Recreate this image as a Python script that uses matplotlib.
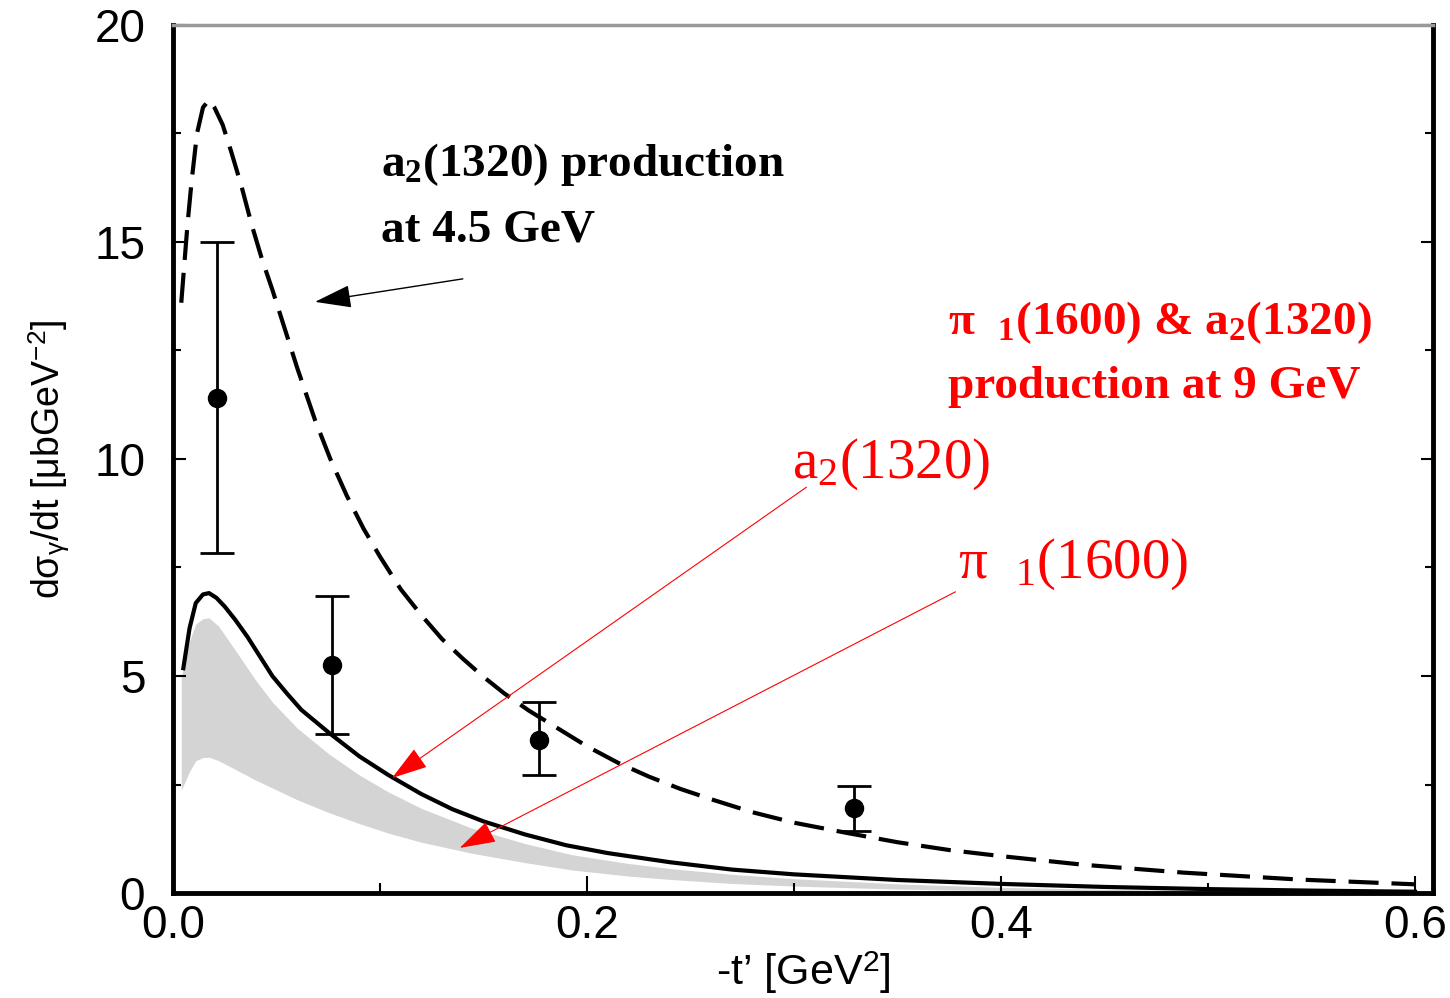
import matplotlib
matplotlib.use("Agg")
import matplotlib.pyplot as plt
from matplotlib.ticker import MultipleLocator

plt.rcParams["font.family"] = ["Liberation Sans", "DejaVu Sans"]
plt.rcParams["mathtext.fontset"] = "custom"
plt.rcParams["mathtext.rm"] = "Liberation Serif"
plt.rcParams["mathtext.bf"] = "Liberation Serif:bold"
plt.rcParams["mathtext.sf"] = "Liberation Sans"
plt.rcParams["mathtext.it"] = "Liberation Serif:italic"

# a2(1320) at 4.5 GeV (dashed curve)
t_dash = [0.004, 0.007, 0.009, 0.0116, 0.0145, 0.0174, 0.020, 0.024, 0.028,
          0.033, 0.038, 0.043, 0.048, 0.054, 0.060, 0.0686, 0.076, 0.084,
          0.092, 0.100, 0.110, 0.120, 0.130, 0.140, 0.150, 0.160, 0.172,
          0.185, 0.200, 0.215, 0.230, 0.245, 0.260, 0.280, 0.300, 0.326,
          0.350, 0.375, 0.400, 0.440, 0.488, 0.544, 0.600]
xs_dash = [13.6, 15.4, 16.4, 17.5, 18.1, 18.27, 18.1, 17.7, 17.1,
           16.3, 15.4, 14.6, 13.9, 13.0, 12.1, 10.9, 10.0, 9.15,
           8.4, 7.75, 7.0, 6.4, 5.85, 5.4, 4.98, 4.6, 4.2,
           3.82, 3.38, 3.0, 2.68, 2.40, 2.16, 1.86, 1.62, 1.38,
           1.17, 0.99, 0.85, 0.65, 0.47, 0.31, 0.20]

# pi1(1600) & a2(1320) at 9 GeV (solid curve)
t_sum = [0.005, 0.008, 0.011, 0.0145, 0.0174, 0.021, 0.025, 0.030, 0.036,
         0.042, 0.048, 0.055, 0.062, 0.0754, 0.090, 0.104, 0.120, 0.135,
         0.150, 0.170, 0.190, 0.210, 0.240, 0.270, 0.300, 0.350, 0.400,
         0.450, 0.500, 0.550, 0.600]
xs_sum = [5.18, 6.1, 6.68, 6.88, 6.91, 6.8, 6.6, 6.3, 5.9,
          5.45, 5.0, 4.6, 4.22, 3.69, 3.15, 2.72, 2.28, 1.93,
          1.65, 1.35, 1.1, 0.92, 0.71, 0.54, 0.43, 0.30, 0.21,
          0.14, 0.09, 0.055, 0.03]

# pi1(1600) band at 9 GeV
t_band = [0.004, 0.008, 0.011, 0.0145, 0.0174, 0.022, 0.030, 0.040, 0.048,
          0.060, 0.0754, 0.090, 0.104, 0.120, 0.144, 0.170, 0.193, 0.220,
          0.241, 0.270, 0.300, 0.350, 0.400, 0.450, 0.500, 0.550, 0.600]
band_hi = [4.98, 5.8, 6.2, 6.32, 6.34, 6.15, 5.6, 4.9, 4.4,
           3.8, 3.2, 2.72, 2.33, 1.95, 1.5, 1.14, 0.88, 0.68,
           0.56, 0.43, 0.33, 0.21, 0.13, 0.085, 0.055, 0.035, 0.02]
band_lo = [2.37, 2.8, 3.05, 3.12, 3.13, 3.05, 2.85, 2.6, 2.42,
           2.15, 1.85, 1.6, 1.38, 1.17, 0.92, 0.7, 0.53, 0.39,
           0.31, 0.22, 0.16, 0.09, 0.05, 0.03, 0.02, 0.01, 0.005]

# data points
t_data = [0.0213, 0.0768, 0.177, 0.329]
xs_data = [11.4, 5.25, 3.53, 1.96]
err_hi = [15.0, 6.84, 4.40, 2.47]
err_lo = [7.83, 3.66, 2.72, 1.43]

err_up = [h - v for h, v in zip(err_hi, xs_data)]
err_dn = [v - l for l, v in zip(err_lo, xs_data)]

fig = plt.figure(figsize=(14.5, 9.98), dpi=100)
ax = fig.add_axes([0.1193, 0.1052, 0.8690, 0.8698])

ax.fill_between(t_band, band_lo, band_hi, color="#d4d4d4", lw=0)
ax.plot(t_sum, xs_sum, color="black", lw=3)
ax.plot(t_dash, xs_dash, color="black", lw=3, dashes=(7.2, 3.1))
ax.errorbar(
    t_data, xs_data, yerr=[err_dn, err_up],
    fmt="o", color="black", ms=13, elinewidth=2,
    capsize=12, capthick=2
)

ax.set_xlim(0, 0.6087)
ax.set_ylim(0, 20)

ax.xaxis.set_major_locator(MultipleLocator(0.2))
ax.xaxis.set_minor_locator(MultipleLocator(0.1))
ax.yaxis.set_major_locator(MultipleLocator(5))
ax.yaxis.set_minor_locator(MultipleLocator(2.5))
ax.xaxis.set_major_formatter(plt.FuncFormatter(lambda v, p: f"{v:.1f}"))

ax.tick_params(axis="both", which="both", direction="in", right=True,
               top=False, width=1.5, labelsize=33)
ax.tick_params(axis="y", which="major", length=9, pad=20)
ax.tick_params(axis="y", which="minor", length=6)
ax.tick_params(axis="x", which="major", length=12, pad=8)
ax.tick_params(axis="x", which="minor", length=7)

for side in ["left", "bottom", "right"]:
    ax.spines[side].set_linewidth(3.5)
ax.spines["top"].set_linewidth(2.5)
ax.spines["top"].set_color("#9a9a9a")

ax.set_xlabel("-t\u2019 [GeV$^\\mathsf{2}$]", fontsize=31, labelpad=1)
ax.set_ylabel("d\u03c3$_\\mathsf{\\gamma}$/dt [\u03bcbGeV$^\\mathsf{-2}$]",
              fontsize=27, labelpad=16)

serif_bold = dict(family="Liberation Serif", weight="bold", fontsize=34)
serif_reg = dict(family="Liberation Serif", fontsize=41)

ax.text(0.1005, 16.52, "a$_\\mathbf{2}$(1320) production",
        color="black", va="baseline", **serif_bold)
ax.text(0.1005, 15.0, "at 4.5 GeV", color="black", va="baseline",
        **serif_bold)
ax.text(0.3744, 12.88,
        "\u03c0  $_\\mathbf{1}$(1600) & a$_\\mathbf{2}$(1320)",
        color="red", va="baseline", **serif_bold)
ax.text(0.3744, 11.41, "production at 9 GeV", color="red",
        va="baseline", **serif_bold)
ax.text(0.299, 9.56, "a$_\\mathrm{2}$(1320)", color="red",
        va="baseline", **serif_reg)
ax.text(0.379, 7.26, "\u03c0  $_\\mathrm{1}$(1600)", color="red",
        va="baseline", **serif_reg)

head = "-|>,head_length=1.15,head_width=0.36"
ax.annotate("", xy=(0.0686, 13.62), xytext=(0.140, 14.15),
            arrowprops=dict(arrowstyle=head, mutation_scale=20,
                            color="black", lw=1.0, shrinkA=0, shrinkB=0))
ax.annotate("", xy=(0.1058, 2.65), xytext=(0.306, 9.35),
            arrowprops=dict(arrowstyle=head, mutation_scale=20,
                            color="red", lw=0.8, shrinkA=0, shrinkB=0))
ax.annotate("", xy=(0.1386, 1.04), xytext=(0.378, 6.94),
            arrowprops=dict(arrowstyle=head, mutation_scale=20,
                            color="red", lw=0.8, shrinkA=0, shrinkB=0))

fig.savefig("out.png", dpi=100)
